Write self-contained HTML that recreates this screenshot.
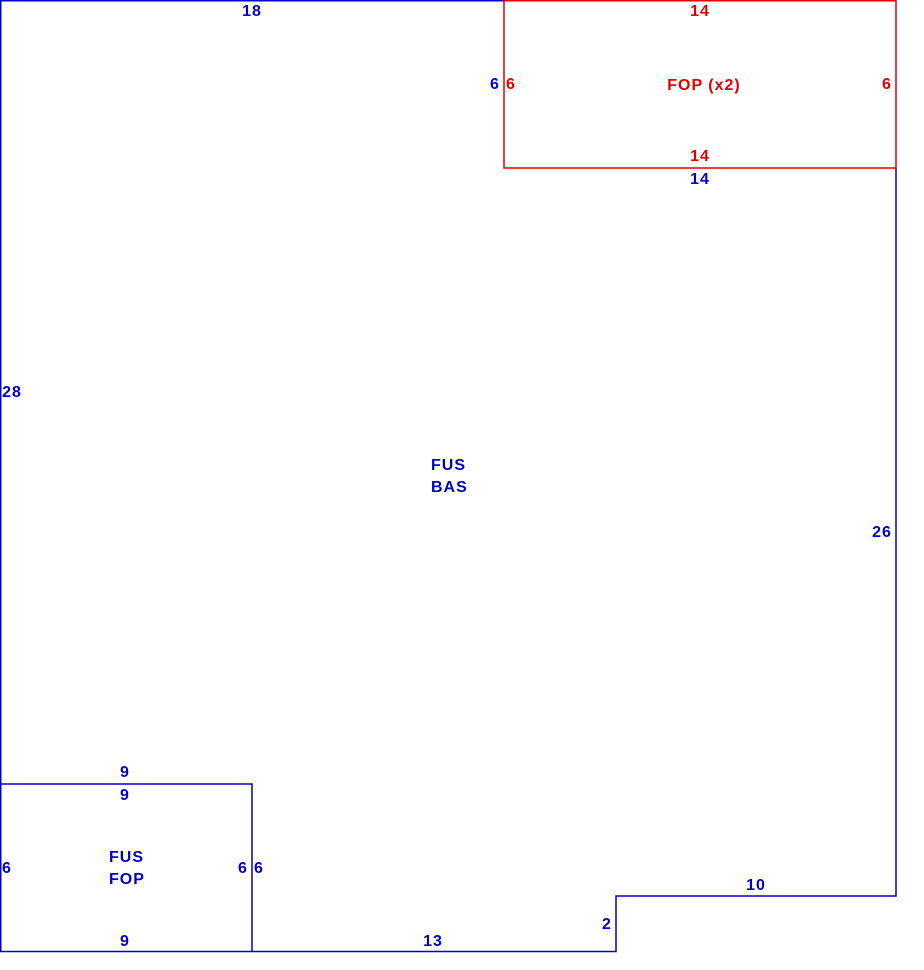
<!DOCTYPE html>
<html><head><meta charset="utf-8"><style>
html,body{margin:0;padding:0;background:#fff;width:924px;height:970px;overflow:hidden}
svg{display:block}
text{font-family:"Liberation Sans",Arial,sans-serif;font-size:16px;font-weight:bold;letter-spacing:1px}
.b{fill:#0000cc}.r{fill:#e00000}
</style></head><body>
<svg width="924" height="970" xmlns="http://www.w3.org/2000/svg">
<g fill="none" stroke="#0000cc" stroke-width="1.5">
<polyline points="504,0.75 0.75,0.75 0.75,951.5 616,951.5 616,896 896,896 896,168"/>
<polyline points="0.75,784 252,784 252,951.5"/>
</g>
<rect x="504" y="0.75" width="392" height="167.25" fill="none" stroke="#e00000" stroke-width="1.5"/>
<g text-anchor="middle">
<text class="b" x="252" y="16">18</text>
<text class="r" x="700" y="16">14</text>
<text class="b" x="495" y="89">6</text>
<text class="r" x="511" y="89">6</text>
<text class="r" x="704" y="90">FOP (x2)</text>
<text class="r" x="887" y="89">6</text>
<text class="r" x="700" y="161">14</text>
<text class="b" x="700" y="184">14</text>
<text class="b" x="12" y="397">28</text>
<text class="b" x="882" y="537">26</text>
<text class="b" x="125" y="777">9</text>
<text class="b" x="125" y="800">9</text>
<text class="b" x="7" y="873">6</text>
<text class="b" x="243" y="873">6</text>
<text class="b" x="259" y="873">6</text>
<text class="b" x="125" y="946">9</text>
<text class="b" x="433" y="946">13</text>
<text class="b" x="607" y="929">2</text>
<text class="b" x="756" y="890">10</text>
</g>
<text class="b" x="431" y="470">FUS</text>
<text class="b" x="431" y="492">BAS</text>
<text class="b" x="109" y="862">FUS</text>
<text class="b" x="109" y="884">FOP</text>
</svg>
</body></html>
